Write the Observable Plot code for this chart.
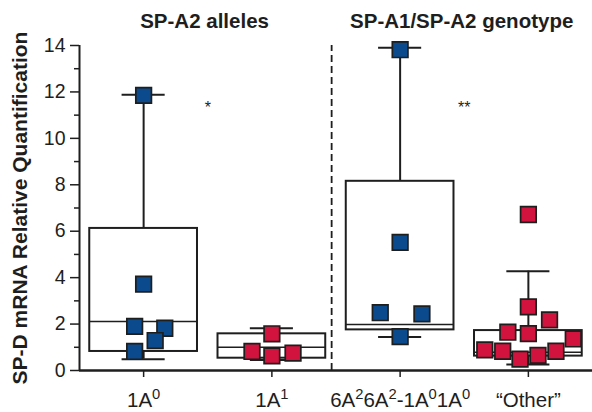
<!DOCTYPE html>
<html><head><meta charset="utf-8">
<script src="https://cdn.jsdelivr.net/npm/d3@7"></script>
<script src="https://cdn.jsdelivr.net/npm/@observablehq/plot@0.6"></script>
<style>body{margin:0;background:#fff}</style>
</head><body><div id="chart"></div>
<script>
const categories = ["1A⁰", "1A¹", "6A²6A²-1A⁰1A⁰", "“Other”"];
const groupColor = ["blue", "red", "blue", "red"];
const whiskerLow = [0.49, 0.45, 1.44, 0.26];
const q1 = [0.82, 0.53, 1.75, 0.62];
const median = [2.11, 1.0, 1.98, 0.79];
const q3 = [6.12, 1.58, 8.15, 1.72];
const whiskerHigh = [11.88, 1.82, 13.9, 4.28];

// individual samples: group index, value, horizontal jitter (category units)
const pointGroup = [0,0,0,0,0,0, 1,1,1,1, 2,2,2,2,2, 3,3,3,3,3,3,3,3,3,3,3];
const pointValue = [11.85,3.72,1.9,1.82,1.29,0.82, 1.58,0.82,0.63,0.75, 13.82,5.52,2.49,2.44,1.46,
  6.72,2.74,2.18,1.65,1.59,1.36,0.89,0.83,0.49,0.65,0.83];
const pointJitter = [0,0,-0.07,0.165,0.09,-0.07, 0,-0.155,0,0.165, 0,0,-0.155,0.17,0,
  0,0,0.165,-0.16,0,0.35,-0.34,-0.2,-0.065,0.075,0.215];

const headings = ["SP-A2 alleles", "SP-A1/SP-A2 genotype"];
const headingX = [0.475, 2.48];
const signif = ["*", "**"];
const signifX = [0.5, 2.5];
const yLabel = "SP-D mRNA Relative Quantification";
const yMajor = [0,2,4,6,8,10,12,14];
const yMinor = [1,3,5,7,9,11,13];

const colors = {blue: "#0b4a8c", red: "#d2133d"};
const ink = "#1e1e1e";
const font = "'Liberation Sans', Arial, Helvetica, sans-serif";

const groups = categories.map((c, i) => ({i, lo: whiskerLow[i], q1: q1[i], med: median[i], q3: q3[i], hi: whiskerHigh[i]}));
const points = pointValue.map((v, k) => ({x: pointGroup[k] + pointJitter[k], y: v, c: colors[groupColor[pointGroup[k]]]}));
const bw = 0.42, cap = 0.168;

const plot = Plot.plot({
  width: 592, height: 412,
  marginLeft: 79, marginRight: 0, marginTop: 45, marginBottom: 42,
  style: {fontFamily: font, background: "#fff", color: ink, fontSize: "18px"},
  x: {type: "linear", domain: [-0.5, 3.5]},
  y: {domain: [0, 14]},
  marks: [
    Plot.ruleX([1.466], {y1: 0, y2: 14, stroke: ink, strokeWidth: 1.8, strokeDasharray: "7,4"}),
    Plot.rect(groups, {x1: d => d.i - bw, x2: d => d.i + bw, y1: "q1", y2: "q3", fill: "#fff", stroke: ink, strokeWidth: 2}),
    Plot.ruleX(groups, {x: "i", y1: "q3", y2: "hi", stroke: ink, strokeWidth: 2}),
    Plot.ruleX(groups, {x: "i", y1: "lo", y2: "q1", stroke: ink, strokeWidth: 2}),
    Plot.ruleY(groups, {y: "hi", x1: d => d.i - cap, x2: d => d.i + cap, stroke: ink, strokeWidth: 2}),
    Plot.ruleY(groups, {y: "lo", x1: d => d.i - cap, x2: d => d.i + cap, stroke: ink, strokeWidth: 2}),
    Plot.ruleY(groups, {y: "med", x1: d => d.i - bw, x2: d => d.i + bw, stroke: ink, strokeWidth: 1.5}),
    Plot.dot(points, {x: "x", y: "y", symbol: "square", r: 8.8, fill: "c", stroke: ink, strokeWidth: 1.7}),
    Plot.ruleX([-0.5], {y1: 0, y2: 14, stroke: ink, strokeWidth: 2}),
    Plot.ruleY([0], {stroke: ink, strokeWidth: 2.5}),
    Plot.axisY({ticks: yMajor, tickSize: 9, tickPadding: 5, fontSize: 19.5, label: null, strokeWidth: 1.5}),
    Plot.axisY({ticks: yMinor, tickSize: 5, tickFormat: () => "", label: null, strokeWidth: 1.5}),
    Plot.axisX({ticks: [0,1,2,3], tickFormat: i => categories[i], tickSize: 7, tickPadding: 15, fontSize: 20.5, label: null, strokeWidth: 1.5}),
    Plot.text(headings, {x: (d, k) => headingX[k], y: 15.05, text: d => d, fontSize: 20.5, fontWeight: "bold", fill: ink}),
    Plot.text(signif, {x: (d, k) => signifX[k], y: 11.3, text: d => d, fontSize: 16, fill: ink}),
    Plot.text([yLabel], {frameAnchor: "left", textAnchor: "middle", dx: -59, rotate: -90, text: d => d, fontSize: 21, fontWeight: "bold", fill: ink})
  ]
});

// render Unicode superscript digits in tick labels as raised tspans
const supMap = {"⁰": "0", "¹": "1", "²": "2"};
d3.select(plot).selectAll("g[aria-label='x-axis tick label'] text").each(function() {
  const t = d3.select(this);
  const s = t.text();
  t.text("");
  let buf = "", sup = false;
  const flush = () => {
    if (!buf) return;
    const sp = t.append("tspan").text(buf);
    if (sup) sp.attr("font-size", "0.72em").attr("dy", "-0.55em");
    else if (t.selectAll("tspan").size() > 1) sp.attr("dy", "0.4em");
    buf = "";
  };
  for (const ch of s) {
    const isSup = ch in supMap;
    if (isSup !== sup) { flush(); sup = isSup; }
    buf += isSup ? supMap[ch] : ch;
  }
  flush();
});
document.getElementById("chart").appendChild(plot);
</script>
</body></html>
